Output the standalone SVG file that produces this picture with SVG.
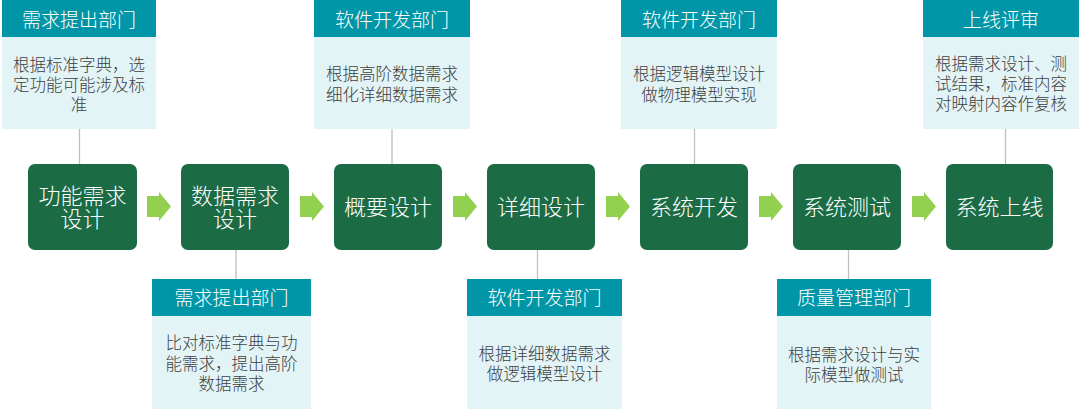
<svg xmlns="http://www.w3.org/2000/svg" width="1080" height="409" viewBox="0 0 1080 409">
<style>
.hd{fill:#0096A7}
.bd{fill:#E3F4F7}
.nd{fill:#1B6B45}
.ht{font-family:"Noto Sans CJK SC","Liberation Sans",sans-serif;font-size:19px;font-weight:300;fill:#FFFFFF;text-anchor:middle}
.nt{font-family:"Noto Sans CJK SC","Liberation Sans",sans-serif;font-size:22px;font-weight:300;fill:#FFFFFF;text-anchor:middle}
.bt{font-family:"Noto Sans CJK SC","Liberation Sans",sans-serif;font-size:16.5px;font-weight:300;fill:#404040;text-anchor:middle}
.ln{stroke:#BFBFBF;stroke-width:1.3;fill:none}
.ar{fill:#92D050}
</style>
<defs>
<polygon id="arrow" points="0,-10.5 12,-10.5 12,-14.5 24,0 12,14.5 12,10.5 0,10.5"/>
</defs>
<rect width="1080" height="409" fill="#FFFFFF"/>
<g id="connectors">
<line class="ln" x1="79.5" y1="129" x2="79.5" y2="164"/>
<line class="ln" x1="236" y1="250" x2="236" y2="279"/>
<line class="ln" x1="392" y1="129" x2="392" y2="164"/>
<line class="ln" x1="537.5" y1="250" x2="537.5" y2="279"/>
<line class="ln" x1="694.5" y1="129" x2="694.5" y2="164"/>
<line class="ln" x1="848.5" y1="250" x2="848.5" y2="279"/>
<line class="ln" x1="1005.5" y1="129" x2="1005.5" y2="164"/>
<use href="#arrow" class="ar" x="147" y="206.5"/>
<use href="#arrow" class="ar" x="300" y="206.5"/>
<use href="#arrow" class="ar" x="453" y="206.5"/>
<use href="#arrow" class="ar" x="606" y="206.5"/>
<use href="#arrow" class="ar" x="759" y="206.5"/>
<use href="#arrow" class="ar" x="912" y="206.5"/>
</g>
<g id="n1">
<rect class="nd" x="28" y="164" width="109" height="86" rx="7"/>
<text class="nt" x="82.5" y="203.5">功能需求<tspan x="82.5" dy="23.5">设计</tspan></text>
</g>
<g id="n2">
<rect class="nd" x="181" y="164" width="108" height="86" rx="7"/>
<text class="nt" x="235" y="203.5">数据需求<tspan x="235" dy="23.5">设计</tspan></text>
</g>
<g id="n3">
<rect class="nd" x="334" y="164" width="108" height="86" rx="7"/>
<text class="nt" x="388" y="214.5">概要设计</text>
</g>
<g id="n4">
<rect class="nd" x="487" y="164" width="108" height="86" rx="7"/>
<text class="nt" x="541" y="214.5">详细设计</text>
</g>
<g id="n5">
<rect class="nd" x="640" y="164" width="108" height="86" rx="7"/>
<text class="nt" x="694" y="214.5">系统开发</text>
</g>
<g id="n6">
<rect class="nd" x="793" y="164" width="108" height="86" rx="7"/>
<text class="nt" x="847" y="214.5">系统测试</text>
</g>
<g id="n7">
<rect class="nd" x="946" y="164" width="107" height="86" rx="7"/>
<text class="nt" x="999.5" y="214.5">系统上线</text>
</g>
<g id="b1">
<rect class="hd" x="2" y="0" width="154" height="37"/>
<rect class="bd" x="2" y="37" width="154" height="92"/>
<text class="ht" x="79" y="26.5">需求提出部门</text>
<text class="bt" x="79" y="71">根据标准字典，选<tspan x="79" dy="20">定功能可能涉及标</tspan><tspan x="79" dy="20">准</tspan></text>
</g>
<g id="b2">
<rect class="hd" x="152" y="279" width="159" height="37"/>
<rect class="bd" x="152" y="316" width="159" height="93"/>
<text class="ht" x="231.5" y="305">需求提出部门</text>
<text class="bt" x="231.5" y="349">比对标准字典与功<tspan x="231.5" dy="20.5">能需求，提出高阶</tspan><tspan x="231.5" dy="20.5">数据需求</tspan></text>
</g>
<g id="b3">
<rect class="hd" x="314" y="0" width="156" height="37"/>
<rect class="bd" x="314" y="37" width="156" height="92"/>
<text class="ht" x="392" y="26.5">软件开发部门</text>
<text class="bt" x="392" y="80">根据高阶数据需求<tspan x="392" dy="21">细化详细数据需求</tspan></text>
</g>
<g id="b4">
<rect class="hd" x="467" y="279" width="155" height="37"/>
<rect class="bd" x="467" y="316" width="155" height="93"/>
<text class="ht" x="544.5" y="305">软件开发部门</text>
<text class="bt" x="544.5" y="360">根据详细数据需求<tspan x="544.5" dy="19.5">做逻辑模型设计</tspan></text>
</g>
<g id="b5">
<rect class="hd" x="621" y="0" width="156" height="37"/>
<rect class="bd" x="621" y="37" width="156" height="92"/>
<text class="ht" x="699" y="26.5">软件开发部门</text>
<text class="bt" x="699" y="80">根据逻辑模型设计<tspan x="699" dy="21">做物理模型实现</tspan></text>
</g>
<g id="b6">
<rect class="hd" x="777" y="279" width="154" height="37"/>
<rect class="bd" x="777" y="316" width="154" height="93"/>
<text class="ht" x="854" y="305">质量管理部门</text>
<text class="bt" x="854" y="361">根据需求设计与实<tspan x="854" dy="20">际模型做测试</tspan></text>
</g>
<g id="b7">
<rect class="hd" x="923" y="0" width="156" height="37"/>
<rect class="bd" x="923" y="37" width="156" height="92"/>
<text class="ht" x="1001" y="26.5">上线评审</text>
<text class="bt" x="1001" y="70">根据需求设计、测<tspan x="1001" dy="20">试结果，标准内容</tspan><tspan x="1001" dy="20">对映射内容作复核</tspan></text>
</g>
</svg>
